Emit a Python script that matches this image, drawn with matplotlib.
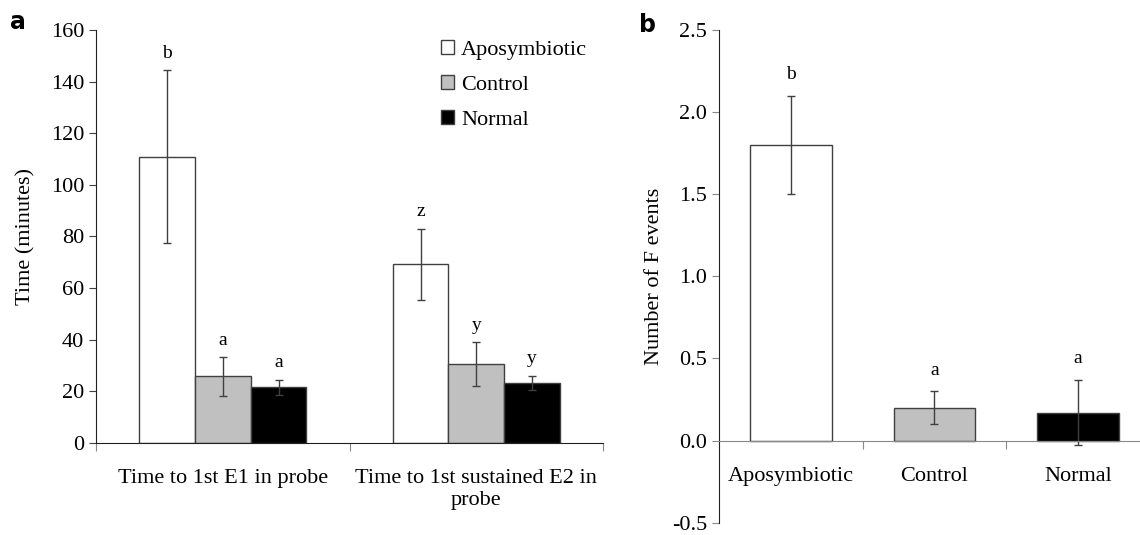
import matplotlib
matplotlib.use("Agg")
import matplotlib.pyplot as plt
from matplotlib.patches import Patch
import numpy as np

plt.rcParams['font.family'] = ['Liberation Serif', 'DejaVu Serif']

# panel a data
measures = ["Time to 1st E1 in probe", "Time to 1st sustained E2 in\nprobe"]
groups = ["Aposymbiotic", "Control", "Normal"]
colors = ["white", "#c0c0c0", "black"]
time_mean = {
    "Aposymbiotic": [110.8, 69.2],
    "Control": [25.8, 30.5],
    "Normal": [21.5, 23.3],
}
time_err = {
    "Aposymbiotic": [33.5, 13.8],
    "Control": [7.5, 8.5],
    "Normal": [3.0, 2.8],
}
time_letters = {
    "Aposymbiotic": ["b", "z"],
    "Control": ["a", "y"],
    "Normal": ["a", "y"],
}

# panel b data
f_mean = [1.8, 0.2, 0.17]
f_err = [0.3, 0.1, 0.2]
f_letters = ["b", "a", "a"]

edge = "#404040"
fs = 16
fig = plt.figure(figsize=(11.4, 5.35), dpi=100)

# ---- panel a
ax1 = fig.add_axes([0.0842, 0.172, 0.4448, 0.772])
x = np.arange(len(measures))
w = 0.22
for i, g in enumerate(groups):
    xs = x + (i - 1) * w
    ax1.bar(xs, time_mean[g], w, color=colors[i], edgecolor=edge, linewidth=1.0, label=g)
    ax1.errorbar(xs, time_mean[g], yerr=time_err[g], fmt="none", ecolor=edge,
                 elinewidth=1.0, capsize=3, capthick=1.0)
    for xi, m, e, t in zip(xs, time_mean[g], time_err[g], time_letters[g]):
        ax1.annotate(t, (xi, m + e), xytext=(0, 6), textcoords="offset points",
                     ha="center", va="bottom", fontsize=14)

ax1.set_xlim(-0.5, 1.5)
ax1.set_ylim(0, 160)
ax1.set_yticks(np.arange(0, 161, 20))
ax1.set_xticks([-0.5, 0.5, 1.5])
ax1.set_xticklabels([])
ax1.set_xticks(x, minor=True)
ax1.set_xticklabels(measures, minor=True, fontsize=fs)
ax1.tick_params(axis="x", which="minor", length=0, pad=19)
ax1.tick_params(axis="x", which="major", length=6, direction="out", color="#888888")
ax1.tick_params(axis="y", length=5, direction="out", labelsize=fs, color=edge)
for s in ["top", "right"]:
    ax1.spines[s].set_visible(False)
for s in ["left", "bottom"]:
    ax1.spines[s].set_color("#202020")
ax1.set_ylabel("Time (minutes)", fontsize=fs, labelpad=11)

handles = [Patch(facecolor=c, edgecolor=edge, label=g) for g, c in zip(groups, colors)]
ax1.legend(handles=handles, loc="upper right", bbox_to_anchor=(1.008, 1.025), frameon=False,
           fontsize=fs, handlelength=0.6, handleheight=0.6, handletextpad=0.3,
           labelspacing=0.68)

# ---- panel b
ax2 = fig.add_axes([0.6307, 0.023, 0.378, 0.921])
xb = np.arange(len(groups))
wb = 0.57
ax2.bar(xb, f_mean, wb, color=colors, edgecolor=edge, linewidth=1.0)
ax2.errorbar(xb, f_mean, yerr=f_err, fmt="none", ecolor=edge, elinewidth=1.0,
             capsize=3, capthick=1.0)
for xi, m, e, t in zip(xb, f_mean, f_err, f_letters):
    ax2.annotate(t, (xi, m + e), xytext=(0, 9), textcoords="offset points",
                 ha="center", va="bottom", fontsize=14)

ax2.set_xlim(-0.5, 2.5)
ax2.set_ylim(-0.5, 2.5)
ax2.set_yticks(np.arange(-0.5, 2.51, 0.5))
ax2.yaxis.set_major_formatter(matplotlib.ticker.FormatStrFormatter("%.1f"))
ax2.spines["bottom"].set_position(("data", 0))
ax2.set_xticks([0.5, 1.5])
ax2.set_xticklabels([])
ax2.set_xticks(xb, minor=True)
ax2.set_xticklabels(groups, minor=True, fontsize=fs)
ax2.tick_params(axis="x", which="minor", length=0, pad=19)
ax2.tick_params(axis="x", which="major", length=6, direction="out", color="#888888")
ax2.tick_params(axis="y", length=5, direction="out", labelsize=fs, color="#888888")
for s in ["top", "right"]:
    ax2.spines[s].set_visible(False)
ax2.spines["left"].set_color("#202020")
ax2.spines["bottom"].set_color("#888888")
ax2.set_ylabel("Number of F events", fontsize=fs, labelpad=6)

fig.text(0.016, 0.958, "a", fontsize=17, fontweight="bold", family="DejaVu Sans",
         ha="center", va="center")
fig.text(0.568, 0.953, "b", fontsize=17, fontweight="bold", family="DejaVu Sans",
         ha="center", va="center")

fig.savefig("out.png", dpi=100)
